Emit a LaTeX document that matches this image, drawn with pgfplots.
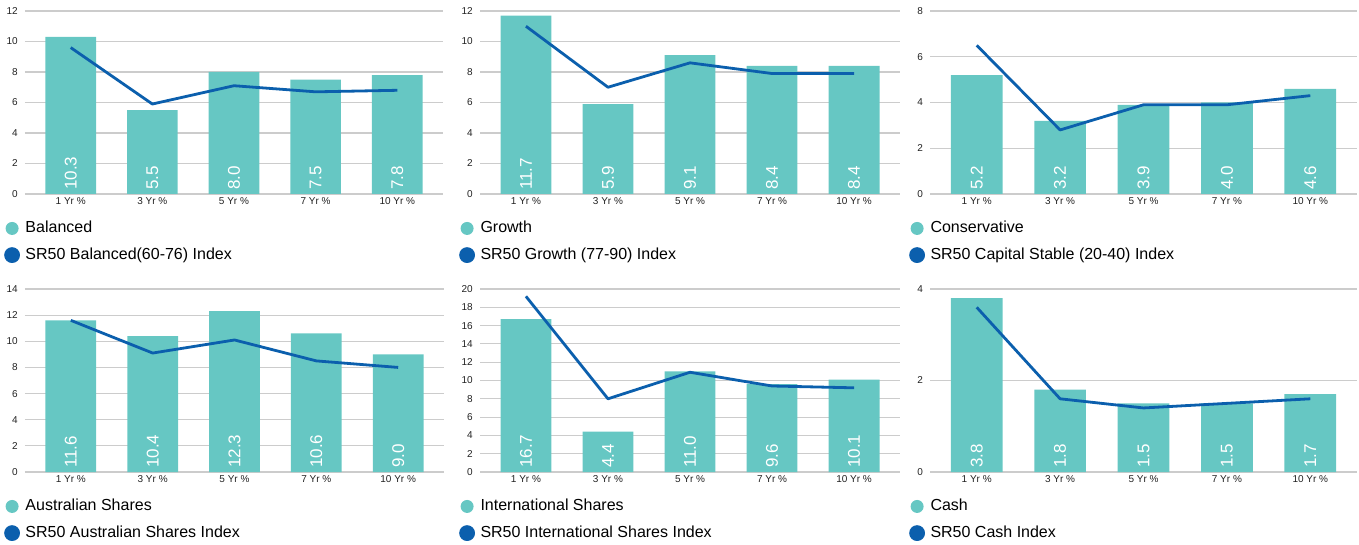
\documentclass[border=0pt]{standalone}
\usepackage{pgfplots}
\pgfplotsset{compat=1.18}
\usepackage{fontspec}
\setmainfont{Liberation Sans}
\definecolor{teal1}{HTML}{66C7C3}
\definecolor{blue1}{HTML}{0B5FAD}
\definecolor{grid1}{HTML}{CCCCCC}
\definecolor{txt1}{HTML}{222222}
\pgfplotsset{
  panel/.style={
    scale only axis, height=183pt, anchor=south west,
    xmin=-0.56, xmax=4.56, ymin=0,
    axis line style={draw=none},
    tick style={draw=none}, major tick length=0pt,
    ymajorgrids, grid style={grid1, line width=1.1pt},
    xtick={0,1,2,3,4},
    xticklabels={1 Yr \%, 3 Yr \%, 5 Yr \%, 7 Yr \%, 10 Yr \%},
    xticklabel style={font=\fontsize{10}{11}\selectfont, text=txt1, inner sep=0pt, yshift=-3pt},
    yticklabel style={font=\fontsize{10}{11}\selectfont, text=txt1, inner sep=0pt, xshift=-7pt},
    /pgf/number format/assume math mode=true,
    clip=false,
    legend cell align=left,
    legend style={at={(0,0)}, anchor=north west, xshift=-21pt, yshift=-27pt,
      draw=none, fill=none, inner sep=0pt, row sep=11.5pt,
      font=\fontsize{16}{18}\selectfont,
      nodes={inner sep=0pt, text height=11.5pt, text depth=3pt}},
  }
}
\newcommand\panel[8]{%
  \begin{axis}[panel, at={(#1)}, width=#2, ymax=#3, ytick={0,2,...,#3}]
    \addplot[ybar, bar width=0.62, fill=teal1, draw=none,
      legend image code/.code={\fill[teal1] (0pt,0pt) circle (6.5pt);}] coordinates {#4};
    \addlegendentry{\hspace{5.5pt}#7}
    \addplot[blue1, line width=2.8pt, line join=round, mark=none,
      legend image code/.code={\fill[blue1] (0pt,0pt) circle (6.5pt);}] coordinates {#5};
    \addlegendentry{\hspace{5.5pt}#8}
    \addplot[forget plot, draw=none, mark=none, nodes near coords, point meta=explicit symbolic,
      every node near coord/.append style={rotate=90, anchor=west, text=white,
        font=\fontsize{17}{18}\selectfont, inner sep=4pt}] coordinates {#6};
  \end{axis}}
\begin{document}
\begin{tikzpicture}
\path[use as bounding box] (0pt,0pt) rectangle (1359pt,544pt);
\panel{25pt,350pt}{418pt}{12}
  {(0,10.3) (1,5.5) (2,8.0) (3,7.5) (4,7.8)}
  {(0,9.6) (1,5.9) (2,7.1) (3,6.7) (4,6.8)}
  {(0,0) [10.3] (1,0) [5.5] (2,0) [8.0] (3,0) [7.5] (4,0) [7.8]}
  {Balanced}{SR50 Balanced(60-76) Index}
\panel{480pt,350pt}{420pt}{12}
  {(0,11.7) (1,5.9) (2,9.1) (3,8.4) (4,8.4)}
  {(0,11.0) (1,7.0) (2,8.6) (3,7.9) (4,7.9)}
  {(0,0) [11.7] (1,0) [5.9] (2,0) [9.1] (3,0) [8.4] (4,0) [8.4]}
  {Growth}{SR50 Growth (77-90) Index}
\panel{930pt,350pt}{427pt}{8}
  {(0,5.2) (1,3.2) (2,3.9) (3,4.0) (4,4.6)}
  {(0,6.5) (1,2.8) (2,3.9) (3,3.9) (4,4.3)}
  {(0,0) [5.2] (1,0) [3.2] (2,0) [3.9] (3,0) [4.0] (4,0) [4.6]}
  {Conservative}{SR50 Capital Stable (20-40) Index}
\panel{25pt,72pt}{419pt}{14}
  {(0,11.6) (1,10.4) (2,12.3) (3,10.6) (4,9.0)}
  {(0,11.6) (1,9.1) (2,10.1) (3,8.5) (4,8.0)}
  {(0,0) [11.6] (1,0) [10.4] (2,0) [12.3] (3,0) [10.6] (4,0) [9.0]}
  {Australian Shares}{SR50 Australian Shares Index}
\panel{480pt,72pt}{420pt}{20}
  {(0,16.7) (1,4.4) (2,11.0) (3,9.6) (4,10.1)}
  {(0,19.2) (1,8.0) (2,10.9) (3,9.4) (4,9.2)}
  {(0,0) [16.7] (1,0) [4.4] (2,0) [11.0] (3,0) [9.6] (4,0) [10.1]}
  {International Shares}{SR50 International Shares Index}
\panel{930pt,72pt}{427pt}{4}
  {(0,3.8) (1,1.8) (2,1.5) (3,1.5) (4,1.7)}
  {(0,3.6) (1,1.6) (2,1.4) (3,1.5) (4,1.6)}
  {(0,0) [3.8] (1,0) [1.8] (2,0) [1.5] (3,0) [1.5] (4,0) [1.7]}
  {Cash}{SR50 Cash Index}
\end{tikzpicture}
\end{document}
